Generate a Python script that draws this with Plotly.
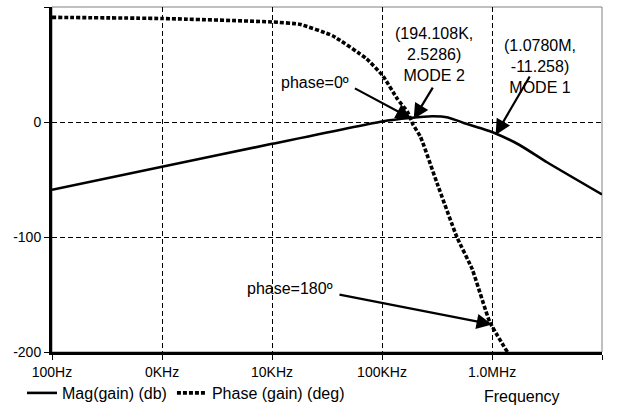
import math
import plotly.graph_objects as go

# ---- data ----
mag_freq_hz = [100, 1000, 10000, 100000, 178000, 288000, 398000, 562000, 794000, 1078000,
               1780000, 3160000, 10000000]
mag_db = [-59, -39, -19, 0.5, 3.5, 5, 4, -1, -5.5, -10, -20, -35, -63]

phase_freq_hz = [100, 1000, 10000, 17800, 35500, 72400, 102000, 138000, 170000, 191000,
                 224000, 316000, 479000, 661000, 955000, 1380000]
phase_deg = [91, 90, 87, 85, 75, 55, 40, 20, 9, -2, -13, -53, -100, -128, -174, -200]

x_tick_vals = [100, 1000, 10000, 100000, 1000000, 10000000]
x_tick_text = ["100Hz", "0KHz", "10KHz", "100KHz", "1.0MHz", "10MHz"]
y_tick_vals = [-200, -100, 0, 100]
y_tick_text = ["-200", "-100", "0", "100"]

series_names = ["Mag(gain) (db)", "Phase (gain) (deg)"]

mode2_point = (194108, 2.5286)
mode1_point = (1078000, -11.258)
phase0_point = (185000, 3)
phase180_point = (1000000, -176)

FONT = "Liberation Sans, Arial, sans-serif"

fig = go.Figure()
fig.add_trace(go.Scatter(
    x=mag_freq_hz, y=mag_db, name=series_names[0], mode="lines",
    line=dict(color="black", width=2.6, shape="spline", smoothing=0.5),
))
fig.add_trace(go.Scatter(
    x=phase_freq_hz, y=phase_deg, name=series_names[1], mode="lines",
    line=dict(color="black", width=3.6, dash="4px,2px", shape="spline", smoothing=0.4),
))


def ann_arrow(pt, ax, ay):
    return dict(x=math.log10(pt[0]), y=pt[1], xref="x", yref="y", text="",
                showarrow=True, ax=ax, ay=ay, arrowhead=2, arrowsize=1.4,
                arrowwidth=2.2, arrowcolor="black", standoff=0, startstandoff=0)


def ann_text(x_log, y, text):
    return dict(x=x_log, y=y, xref="x", yref="y", text=text, showarrow=False,
                font=dict(family=FONT, size=16, color="black"), align="center",
                xanchor="center", yanchor="middle")


annotations = [
    ann_text(5.47, 59, "(194.108K,<br>2.5286)<br>MODE 2"),
    ann_text(6.436, 48, "(1.0780M,<br>-11.258)<br>MODE 1"),
    ann_text(4.39, 34, "phase=0º"),
    ann_text(4.16, -145, "phase=180º"),
    ann_arrow(mode2_point, 20, -33),
    ann_arrow(mode1_point, 35, -60),
    ann_arrow(phase0_point, -58, -31),
    ann_arrow(phase180_point, -154, -30),
    dict(x=(522 - 52) / 550, y=(352 - 396) / 345, xref="paper", yref="paper",
         xanchor="center", yanchor="middle", text="Frequency", showarrow=False,
         font=dict(family=FONT, size=16, color="black")),
]

fig.update_layout(
    width=618, height=411,
    margin=dict(l=52, r=16, t=7, b=59, autoexpand=False),
    paper_bgcolor="white", plot_bgcolor="white",
    font=dict(family=FONT, size=14, color="black"),
    showlegend=True,
    legend=dict(orientation="h", x=(22 - 52) / 550, xanchor="left",
                y=(352 - 393) / 345, yanchor="middle",
                font=dict(family=FONT, size=16, color="black"),
                bgcolor="rgba(0,0,0,0)", itemwidth=30, tracegroupgap=0),
    annotations=annotations,
    shapes=[dict(type="rect", xref="paper", yref="paper", x0=0, x1=1, y0=0, y1=1,
                 line=dict(color="#808080", width=1), layer="below")],
    xaxis=dict(type="log", range=[2, 7], tickvals=x_tick_vals, ticktext=x_tick_text,
               showgrid=True, gridcolor="black", gridwidth=1, griddash="5px,3px",
               showline=True, linecolor="black", linewidth=3,
               ticks="outside", ticklen=5, tickwidth=1, tickcolor="black",
               tickfont=dict(family=FONT, size=14), zeroline=False),
    yaxis=dict(range=[-200, 100], tickvals=y_tick_vals, ticktext=y_tick_text,
               showgrid=True, gridcolor="black", gridwidth=1, griddash="5px,3px",
               showline=True, linecolor="black", linewidth=3,
               ticks="outside", ticklen=5, tickwidth=1, tickcolor="black",
               tickfont=dict(family=FONT, size=14), zeroline=False),
)

fig.write_html("out.html")
